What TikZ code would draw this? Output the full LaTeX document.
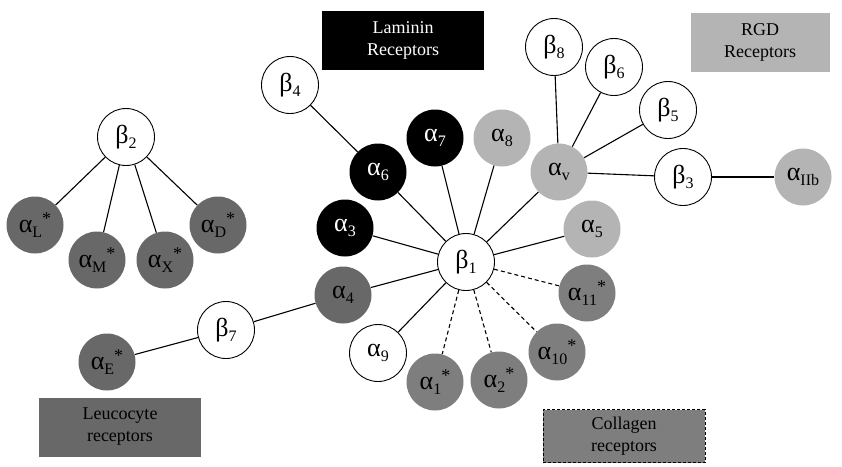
\documentclass[tikz,border=0pt]{standalone}
\usepackage{fontspec}
\setmainfont{Liberation Serif}

\definecolor{rgdgray}{HTML}{B4B4B4}
\definecolor{leugray}{HTML}{686868}
\definecolor{colgray}{HTML}{7E7E7E}

\newcommand{\subfont}{\fontsize{16}{16}\selectfont}
\newcommand{\al}[1]{α\raisebox{-0.2em}{\subfont #1}}
\newcommand{\be}[1]{β\raisebox{-0.2em}{\subfont #1}}
\newcommand{\st}{\raisebox{0.32em}{\fontsize{18}{18}\selectfont *}}

\tikzset{
    integrin/.style={circle, minimum size=57pt, inner sep=0pt, font=\fontsize{26}{26}\selectfont},
    betanode/.style={integrin, draw=black, line width=0.9pt, fill=white},
    lamnode/.style={integrin, fill=black, text=white},
    rgdnode/.style={integrin, fill=rgdgray},
    leunode/.style={integrin, fill=leugray},
    colnode/.style={integrin, fill=colgray},
    link/.style={line width=1.1pt},
    colink/.style={link, dashed, dash pattern=on 4pt off 3pt},
    groupbox/.style={minimum width=162pt, minimum height=59pt, inner sep=0pt, align=center, font=\fontsize{18}{22}\selectfont}
}

\begin{document}
\begin{tikzpicture}[x=1pt, y=-1pt]
                \useasboundingbox (0,0) rectangle (842,466);

                % receptor groups
                \node[groupbox, fill=black, text=white] (lambox) at (403,40) {Laminin\\Receptors};
                \node[groupbox, fill=rgdgray, minimum width=139pt] (rgdbox) at (760,42) {RGD\\Receptors};
                \node[groupbox, fill=leugray] (leubox) at (120,427) {Leucocyte\\receptors};
                \node[groupbox, fill=colgray, draw=black, line width=1pt, dashed, dash pattern=on 3pt off 2pt, minimum height=53pt] (colbox) at (624,436) {Collagen\\receptors};

                % beta subunits
                \node[betanode] (b1) at (466,262) {\be{1}};
                \node[betanode] (b2) at (126,137) {\be{2}};
                \node[betanode] (b3) at (683,177) {\be{3}};
                \node[betanode] (b4) at (290,85) {\be{4}};
                \node[betanode] (b5) at (668,110) {\be{5}};
                \node[betanode] (b6) at (614,67) {\be{6}};
                \node[betanode] (b7) at (226,330) {\be{7}};
                \node[betanode] (b8) at (554,47) {\be{8}};

                % alpha subunits
                \node[lamnode] (a3) at (345,228) {\al{3}};
                \node[lamnode] (a6) at (378,172) {\al{6}};
                \node[lamnode] (a7) at (435,138) {\al{7}};
                \node[rgdnode] (a8) at (502,138) {\al{8}};
                \node[rgdnode] (av) at (559,172) {\al{v}};
                \node[rgdnode] (a5) at (592,229) {\al{5}};
                \node[rgdnode] (aIIb) at (803,177) {\al{IIb}};
                \node[leunode] (a4) at (343,295) {\al{4}};
                \node[betanode] (a9) at (378,353) {\al{9}};
                \node[colnode] (a1) at (435,382) {\al{1}\st};
                \node[colnode] (a2) at (499,380) {\al{2}\st};
                \node[colnode] (a10) at (557,352) {\al{10}\st};
                \node[colnode] (a11) at (587,293) {\al{11}\st};
                \node[leunode] (aL) at (35,225) {\al{L}\st};
                \node[leunode] (aM) at (97,260) {\al{M}\st};
                \node[leunode] (aX) at (165,260) {\al{X}\st};
                \node[leunode] (aD) at (218,225) {\al{D}\st};
                \node[leunode] (aE) at (107,362) {\al{E}\st};

                % links
                \foreach \a in {a3,a4,a6,a7,a8,av,a5,a9}
                    \draw[link] (b1) -- (\a);
                \foreach \a in {a1,a2,a10,a11}
                    \draw[colink] (b1) -- (\a);
                \draw[link] (a6) -- (b4);
                \foreach \b in {b8,b6,b5,b3}
                    \draw[link] (av) -- (\b);
                \draw[link] (b3) -- (aIIb);
                \draw[link] (a4) -- (b7);
                \draw[link] (b7) -- (aE);
                \foreach \a in {aL,aM,aX,aD}
                    \draw[link] (b2) -- (\a);

            \end{tikzpicture}
\end{document}
